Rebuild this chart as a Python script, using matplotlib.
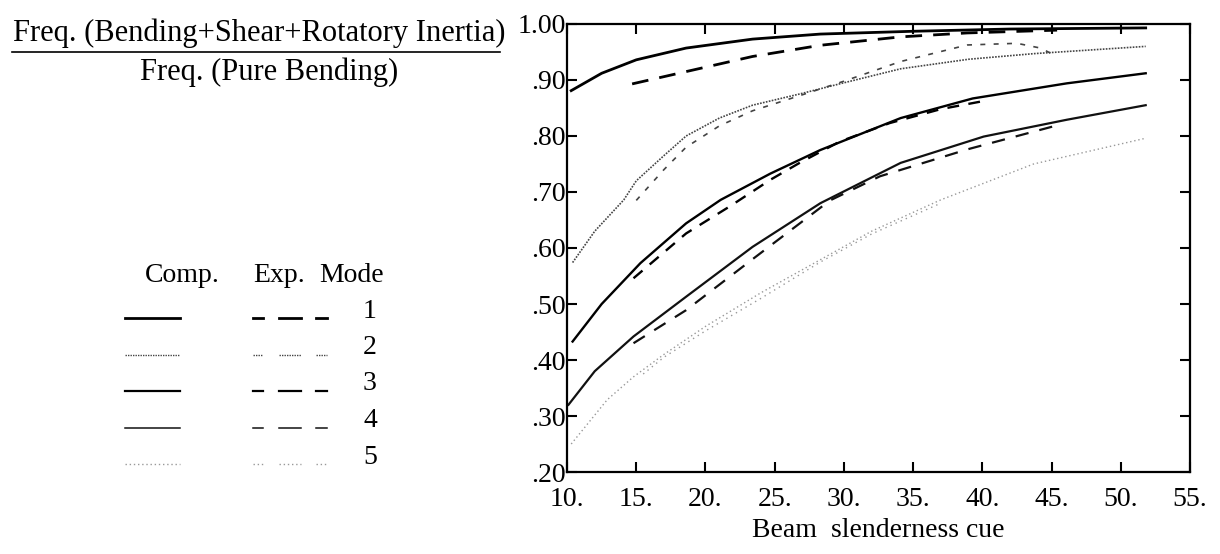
import matplotlib
matplotlib.use('Agg')
import matplotlib.pyplot as plt

plt.rcParams['font.family'] = ['Liberation Serif', 'DejaVu Serif']

# slenderness values and frequency ratios
x1_comp = [10.3, 12.5, 15, 18.6, 23.4, 28.3, 35, 42, 51.8]
y1_comp = [0.881, 0.912, 0.936, 0.957, 0.973, 0.982, 0.987, 0.991, 0.993]
x1_exp = [14.7, 18.6, 23.4, 28.3, 34.1, 38.9, 45.4]
y1_exp = [0.893, 0.915, 0.942, 0.962, 0.977, 0.984, 0.989]

x2_comp = [10.4, 12, 14.1, 15, 17, 18.6, 21, 23.4, 26.8, 30, 34.1, 39, 43.7, 51.8]
y2_comp = [0.574, 0.63, 0.686, 0.72, 0.765, 0.80, 0.832, 0.855, 0.875, 0.895, 0.92, 0.937, 0.947, 0.96]
x2_exp = [15, 17, 18.6, 21, 23.4, 26.8, 29.9, 34.1, 38.9, 42.5, 44.2, 45.4]
y2_exp = [0.685, 0.74, 0.78, 0.818, 0.845, 0.872, 0.897, 0.933, 0.9625, 0.9655, 0.957, 0.942]

x3_comp = [10.4, 12.5, 15.3, 18.6, 21.1, 24.7, 28.3, 34.1, 39.3, 46.1, 51.8]
y3_comp = [0.433, 0.50, 0.573, 0.644, 0.686, 0.733, 0.775, 0.832, 0.867, 0.894, 0.912]
x3_exp = [14.8, 18.6, 21.8, 24.7, 26.8, 29.7, 33.3, 37, 40]
y3_exp = [0.546, 0.626, 0.675, 0.722, 0.752, 0.790, 0.823, 0.848, 0.862]

x4_comp = [10.1, 12, 14.8, 18.6, 23.4, 28.3, 34.1, 40.1, 46.1, 51.8]
y4_comp = [0.32, 0.38, 0.442, 0.513, 0.602, 0.680, 0.752, 0.799, 0.829, 0.855]
x4_exp = [14.8, 18.6, 23.4, 29, 32.6, 38.9, 45.1]
y4_exp = [0.430, 0.489, 0.58, 0.685, 0.728, 0.776, 0.817]

x5_comp = [10.3, 12.9, 14.8, 17, 20, 24, 28, 32, 37, 43.7, 51.8]
y5_comp = [0.25, 0.329, 0.37, 0.41, 0.46, 0.52, 0.575, 0.63, 0.686, 0.75, 0.796]
x5_exp = [15.5, 17, 20, 24, 28.3, 32, 37]
y5_exp = [0.375, 0.405, 0.452, 0.51, 0.575, 0.625, 0.68]

x_ticks = [10, 15, 20, 25, 30, 35, 40, 45, 50, 55]
x_labels = ['10.', '15.', '20.', '25.', '30.', '35.', '40.', '45.', '50.', '55.']
y_ticks = [0.2, 0.3, 0.4, 0.5, 0.6, 0.7, 0.8, 0.9, 1.0]
y_labels = ['.20', '.30', '.40', '.50', '.60', '.70', '.80', '.90', '1.00']
modes = ['1', '2', '3', '4', '5']

comp_x = [x1_comp, x2_comp, x3_comp, x4_comp, x5_comp]
comp_y = [y1_comp, y2_comp, y3_comp, y4_comp, y5_comp]
exp_x = [x1_exp, x2_exp, x3_exp, x4_exp, x5_exp]
exp_y = [y1_exp, y2_exp, y3_exp, y4_exp, y5_exp]

# line styles per mode
colors = ['black', '#444444', 'black', '#111111', '#999999']
widths = [2.0, 1.2, 1.7, 1.6, 1.0]
comp_ls = ['-', (0, (1, 0.8)), '-', '-', (0, (1, 2))]
exp_ls = [(0, (6, 4)), (0, (3, 5)), (0, (5, 4)), (0, (6, 5)), (0, (1, 3))]
leg_widths = [2.0, 1.0, 1.6, 1.1, 1.0]

fig = plt.figure(figsize=(12.2, 5.54), dpi=100)
ax = fig.add_axes([0.4648, 0.148, 0.5106, 0.8087])

for i in range(5):
    ax.plot(comp_x[i], comp_y[i], color=colors[i], lw=widths[i], linestyle=comp_ls[i])
    ax.plot(exp_x[i], exp_y[i], color=colors[i], lw=widths[i], linestyle=exp_ls[i])

ax.set_xlim(10, 55)
ax.set_ylim(0.2, 1.0)
ax.set_xticks(x_ticks)
ax.set_xticklabels(x_labels)
ax.set_yticks(y_ticks)
ax.set_yticklabels(y_labels)
ax.tick_params(direction='in', top=True, right=True, length=7, width=1.5,
               labelsize=20)
ax.tick_params(axis='x', pad=11)
ax.tick_params(axis='y', pad=1)
for s in ax.spines.values():
    s.set_linewidth(1.6)
ax.set_xlabel('Beam  slenderness cue', fontsize=20, labelpad=4)

# y label written as a fraction
fig.text(13 / 1220, 1 - 33 / 554, 'Freq. (Bending+Shear+Rotatory Inertia)',
         fontsize=22, ha='left', va='center')
fig.add_artist(plt.Line2D([12 / 1220, 500 / 1220], [1 - 52 / 554, 1 - 52 / 554],
                          color='black', lw=1.2))
fig.text(269 / 1220, 1 - 72 / 554, 'Freq. (Pure Bending)',
         fontsize=22, ha='center', va='center')

# legend drawn by hand, in pixel units
lg = fig.add_axes([0, 0, 1, 1])
lg.set_xlim(0, 1220)
lg.set_ylim(554, 0)
lg.axis('off')
lg.patch.set_alpha(0)
lg.text(145, 276, 'Comp.', fontsize=20, ha='left', va='center')
lg.text(253, 276, 'Exp.', fontsize=20, ha='left', va='center')
lg.text(352, 276, 'Mode', fontsize=20, ha='center', va='center')
row_y = 318
for i in range(5):
    lg.plot([125, 180], [row_y, row_y], color=colors[i], lw=leg_widths[i],
            linestyle=comp_ls[i])
    for a, b in [(253, 263), (279, 301), (316, 327)]:
        lg.plot([a, b], [row_y, row_y], color=colors[i], lw=leg_widths[i],
                linestyle=comp_ls[i])
    lg.text(370, row_y - 7, modes[i], fontsize=20, ha='center', va='center')
    row_y += 36.5

fig.savefig('out.png', dpi=100)
